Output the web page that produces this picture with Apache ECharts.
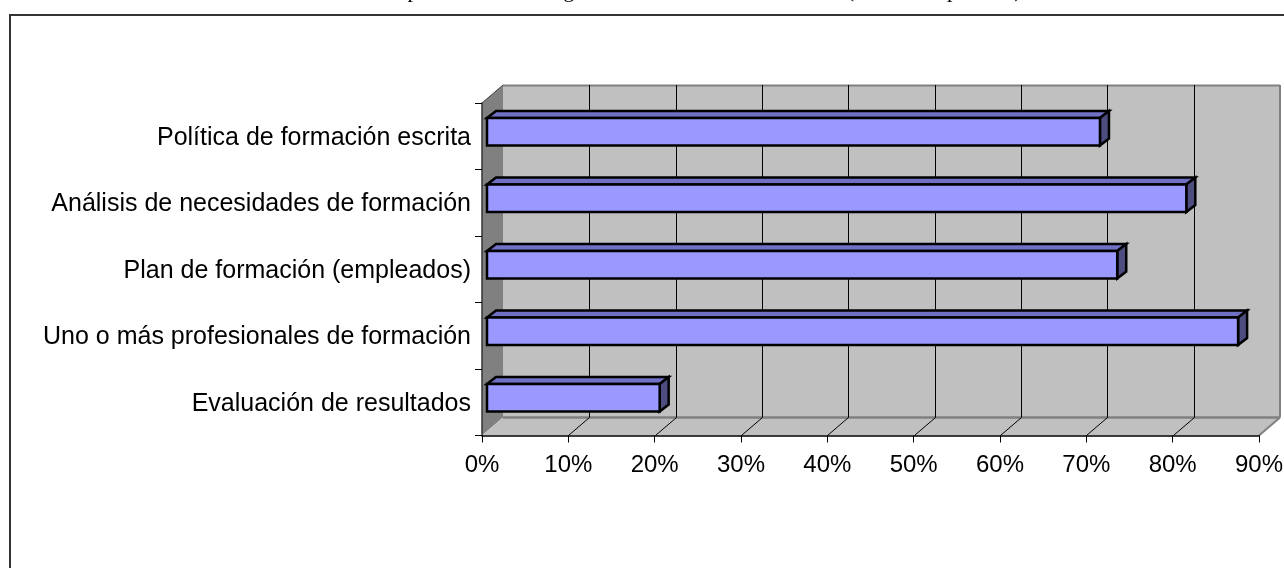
<!DOCTYPE html>
<html><head><meta charset="utf-8">
<style>html,body{margin:0;padding:0;background:#fff}#c{width:1284px;height:568px}</style>
<script src="https://cdn.jsdelivr.net/npm/echarts@6/dist/echarts.min.js"></script>
</head><body><div id="c"></div>
<script>
const categories = ['Política de formación escrita','Análisis de necesidades de formación','Plan de formación (empleados)','Uno o más profesionales de formación','Evaluación de resultados'];
const values = [71,81,73,87,20];
const ticks = [0,10,20,30,40,50,60,70,80,90];
const titleText = 'Empresas con buena gestión de la formación en total (tasa de empleados)';

const DX = 21, DY = -18;          // depth of the back wall
const BDX = 9, BDY = -7;          // depth of a bar
const FONT = '"Liberation Sans", Arial, sans-serif';
const chart = echarts.init(document.getElementById('c'), null, {renderer:'canvas'});

function poly(points, fill, stroke, lw){
  return {type:'polygon', shape:{points}, style:{fill, stroke: stroke||'none', lineWidth: lw||0, lineJoin:'miter'}};
}
function line(x1,y1,x2,y2,stroke,lw){
  return {type:'line', shape:{x1,y1,x2,y2}, style:{stroke, lineWidth: lw||1}};
}
function renderWalls(params, api){
  const r = params.coordSys;
  const L=r.x, T=r.y, R=r.x+r.width, B=r.y+r.height;
  const kids = [
    poly([[L+DX,T+DY],[R+DX,T+DY],[R+DX,B+DY],[L+DX,B+DY]],'#C0C0C0'),
    poly([[L,T],[L+DX,T+DY],[L+DX,B+DY],[L,B]],'#808080'),
    poly([[L,B],[R,B],[R+DX,B+DY],[L+DX,B+DY]],'#C0C0C0'),
    line(L+DX,T+DY+0.5,R+DX,T+DY+0.5,'#808080',2),
    line(R+DX,T+DY,R+DX,B+DY,'#808080',2),
    line(L+DX,B+DY,R+DX,B+DY,'#808080',2.5),
    line(R,B,R+DX,B+DY,'#808080',2),
    line(L,T,L+DX,T+DY,'#404040',1)
  ];
  ticks.forEach(t=>{
    const x = Math.round(api.coord([t,0])[0]) + 0.5;
    if (t>0 && t<ticks[ticks.length-1]) kids.push(line(x+DX,T+DY,x+DX,B+DY,'#000',1));
    if (t>0 && t<ticks[ticks.length-1]) kids.push(line(x,B,x+DX,B+DY,'#000',1));
  });
  return {type:'group', children:kids};
}
function renderBar(params, api){
  const v = api.value(0), c = api.value(1);
  const band = api.size([0,1])[1];
  const mid = api.coord([v,c])[1] - band*0.0675;
  const h = band*0.415;
  const x0 = api.coord([0,c])[0] + 5, x1 = api.coord([v,c])[0] + 5;
  const y0 = mid - h/2, y1 = mid + h/2;
  const K = '#000';
  return {type:'group', children:[
    poly([[x0,y0],[x0+BDX,y0+BDY],[x1+BDX,y0+BDY],[x1,y0]],'#7070C4',K,2.5),
    poly([[x1,y0],[x1+BDX,y0+BDY],[x1+BDX,y1+BDY],[x1,y1]],'#4D4D80',K,2.5),
    poly([[x0,y0],[x1,y0],[x1,y1],[x0,y1]],'#9999FF',K,2.5)
  ]};
}
chart.setOption({
  animation:false,
  backgroundColor:'#fff',
  title:{text:titleText,left:372,top:-25,textStyle:{fontFamily:'"Liberation Serif",serif',fontWeight:'normal',fontSize:22,color:'#000'}},
  grid:{left:482,top:103,width:777,height:332.5,containLabel:false,outerBoundsMode:'none'},
  xAxis:{type:'value',min:0,max:90,interval:10,z:5,
    axisLine:{show:true,onZero:false,lineStyle:{color:'#000',width:1.5}},
    axisTick:{show:true,length:7,lineStyle:{color:'#000'}},
    splitLine:{show:false},
    axisLabel:{formatter:'{value}%',fontFamily:FONT,fontSize:24,color:'#000',margin:18,hideOverlap:false}},
  yAxis:{type:'category',inverse:true,data:categories,z:5,
    axisLine:{show:true,lineStyle:{color:'#333',width:1.5}},
    axisTick:{show:true,length:7,lineStyle:{color:'#000'}},
    splitLine:{show:false},
    axisLabel:{fontFamily:FONT,fontSize:25,color:'#000',margin:11,interval:0,verticalAlign:'top',lineHeight:3}},
  series:[
    {type:'custom',coordinateSystem:'cartesian2d',z:1,silent:true,data:[[0,0]],renderItem:renderWalls,encode:{x:0,y:1}},
    {type:'custom',coordinateSystem:'cartesian2d',z:3,silent:true,clip:false,data:values.map((v,i)=>[v,i]),renderItem:renderBar,encode:{x:0,y:1}}
  ],
  graphic:[
    {type:'line',z:10,shape:{x1:10,y1:15,x2:1284,y2:15},style:{stroke:'#333',lineWidth:2}},
    {type:'line',z:10,shape:{x1:10,y1:14,x2:10,y2:568},style:{stroke:'#333',lineWidth:2}}
  ]
});
</script></body></html>
